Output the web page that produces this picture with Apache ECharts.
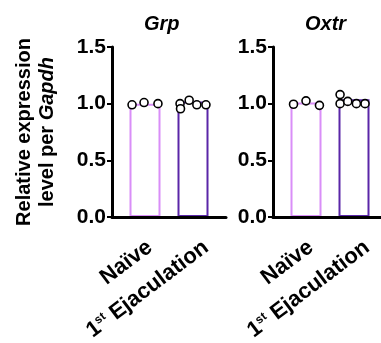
<!DOCTYPE html>
<html>
<head>
<meta charset="utf-8">
<script src="https://cdn.jsdelivr.net/npm/echarts@6/dist/echarts.min.js"></script>
<style>
  html, body { margin: 0; padding: 0; background: #fff; }
  #main { width: 381px; height: 343px; }
</style>
</head>
<body>
<div id="main"></div>
<script>
// groups on x
const categories = ['Naïve', '1st Ejaculation'];
const yTicks = [0, 0.5, 1.0, 1.5];

const grpMeans = [1.0, 1.02];
const grpNaive = [0.99, 1.01, 1.0];
const grpEjac = [1.0, 0.955, 1.03, 0.99, 0.99];
const grpNaiveJitter = [-0.27, -0.02, 0.27];
const grpEjacJitter = [-0.27, -0.26, -0.08, 0.08, 0.27];

const oxtrMeans = [1.01, 1.04];
const oxtrNaive = [0.995, 1.025, 0.985];
const oxtrEjac = [1.08, 1.0, 1.02, 1.0, 1.0];
const oxtrNaiveJitter = [-0.26, 0, 0.28];
const oxtrEjacJitter = [-0.29, -0.29, -0.13, 0.05, 0.23];

const barColors = ['#d98ef8', '#5a26a8'];
const font = 'Liberation Sans, Arial, sans-serif';

function pts(idx, vals, jit) {
  return vals.map(function (v, i) { return [idx + jit[i], v]; });
}

function xAxis(gi) {
  return {
    gridIndex: gi,
    type: 'value',
    min: -0.6875,
    max: 1.6875,
    z: 5,
    splitLine: { show: false },
    axisLine: { show: true, onZero: false, lineStyle: { color: '#000', width: 3 } },
    axisTick: { show: false },
    axisLabel: {
      // label anchors sit a bit right of the bar centres, as in the figure
      customValues: [0.1, 1.27],
      rotate: 37,
      margin: 28,
      formatter: function (v) {
        if (Math.round(v) === 0) return '{b|' + categories[0] + '}';
        return '{b|1}{sup|st}{b| Ejaculation}';
      },
      rich: {
        b: { fontFamily: font, fontWeight: 'bold', fontSize: 22, color: '#000' },
        sup: { fontFamily: font, fontWeight: 'bold', fontSize: 12, color: '#000', verticalAlign: 'top', padding: [0, 0, 9, 0] }
      }
    }
  };
}

function yAxis(gi, withName) {
  const ax = {
    gridIndex: gi,
    type: 'value',
    position: 'left',
    min: 0,
    max: 1.5,
    interval: 0.5,
    z: 5,
    splitLine: { show: false },
    axisLine: { show: true, onZero: false, lineStyle: { color: '#000', width: 3 } },
    axisTick: { show: true, length: 5, lineStyle: { color: '#000', width: 2 } },
    axisLabel: {
      margin: 6,
      color: '#000',
      fontFamily: font,
      fontWeight: 'bold',
      fontSize: 21,
      formatter: function (v) { return v.toFixed(1); }
    }
  };
  if (withName) {
    ax.name = 'Relative expression\nlevel per {i|Gapdh}';
    ax.nameLocation = 'middle';
    ax.nameRotate = 90;
    ax.nameGap = 53;
    ax.nameMoveOverlap = false;
    ax.nameTextStyle = {
      color: '#000', fontFamily: font, fontWeight: 'bold', fontSize: 20, lineHeight: 23,
      rich: { i: { color: '#000', fontFamily: font, fontWeight: 'bold', fontStyle: 'italic', fontSize: 20, lineHeight: 23 } }
    };
  }
  return ax;
}

function barSeries(gi, means) {
  return {
    type: 'bar',
    xAxisIndex: gi,
    yAxisIndex: gi,
    barWidth: 31,
    silent: true,
    data: means.map(function (m, i) {
      return { value: [i, m], itemStyle: { color: '#fff', borderColor: barColors[i], borderWidth: 2 } };
    })
  };
}

function dotSeries(gi, data) {
  return {
    type: 'scatter',
    xAxisIndex: gi,
    yAxisIndex: gi,
    symbol: 'circle',
    symbolSize: 8,
    z: 6,
    itemStyle: { color: '#fff', borderColor: '#000', borderWidth: 1.6, opacity: 1 },
    data: data
  };
}

const chart = echarts.init(document.getElementById('main'), null, { renderer: 'canvas' });

chart.setOption({
  animation: false,
  backgroundColor: '#fff',
  title: [
    { text: 'Grp', left: 139, top: 9, textStyle: { fontFamily: font, fontWeight: 'bold', fontStyle: 'italic', fontSize: 20, color: '#000' } },
    { text: 'Oxtr', left: 300, top: 9, textStyle: { fontFamily: font, fontWeight: 'bold', fontStyle: 'italic', fontSize: 20, color: '#000' } }
  ],
  grid: [
    { left: 112, top: 47, width: 114, height: 170, outerBoundsMode: 'none' },
    { left: 273, top: 47, width: 114, height: 170, outerBoundsMode: 'none' }
  ],
  xAxis: [xAxis(0), xAxis(1)],
  yAxis: [yAxis(0, true), yAxis(1, false)],
  series: [
    barSeries(0, grpMeans),
    dotSeries(0, pts(0, grpNaive, grpNaiveJitter).concat(pts(1, grpEjac, grpEjacJitter))),
    barSeries(1, oxtrMeans),
    dotSeries(1, pts(0, oxtrNaive, oxtrNaiveJitter).concat(pts(1, oxtrEjac, oxtrEjacJitter)))
  ]
});
</script>
</body>
</html>
